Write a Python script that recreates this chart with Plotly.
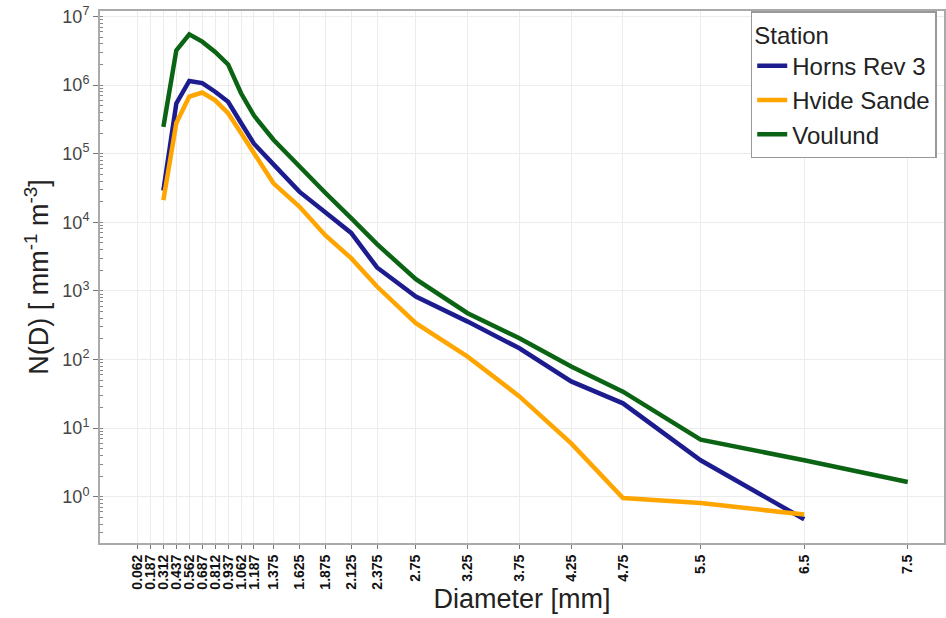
import plotly.graph_objects as go

diameter = [0.312, 0.437, 0.562, 0.687, 0.812, 0.937, 1.062, 1.187, 1.375, 1.625,
            1.875, 2.125, 2.375, 2.75, 3.25, 3.75, 4.25, 4.75, 5.5, 6.5]
horns_rev3 = [2.9e4, 5.4e5, 1.15e6, 1.07e6, 8.0e5, 5.7e5, 2.8e5, 1.4e5, 7.0e4, 2.8e4,
              1.4e4, 7.0e3, 2.2e3, 830, 357, 146, 48, 23, 3.4, 0.47]
hvide_sande = [2.1e4, 2.8e5, 6.8e5, 7.8e5, 6.0e5, 3.9e5, 2.0e5, 1.0e5, 3.7e4, 1.7e4,
               6.5e3, 3.0e3, 1.16e3, 338, 110, 29, 6.0, 0.96, 0.81, 0.55]
voulund_d = [0.312, 0.437, 0.562, 0.687, 0.812, 0.937, 1.062, 1.187, 1.375, 1.625,
             1.875, 2.125, 2.375, 2.75, 3.25, 3.75, 4.25, 4.75, 5.5, 6.5, 7.5]
voulund = [2.46e5, 3.2e6, 5.5e6, 4.3e6, 3.05e6, 2.0e6, 7.6e5, 3.6e5, 1.6e5, 6.4e4,
           2.7e4, 1.15e4, 4.8e3, 1.48e3, 473, 204, 79, 34, 6.8, 3.4, 1.64]

tick_vals = [0.062, 0.187, 0.312, 0.437, 0.562, 0.687, 0.812, 0.937, 1.062, 1.187,
             1.375, 1.625, 1.875, 2.125, 2.375, 2.75, 3.25, 3.75, 4.25, 4.75, 5.5, 6.5, 7.5]
tick_text = ["0.062", "0.187", "0.312", "0.437", "0.562", "0.687", "0.812", "0.937",
             "1.062", "1.187", "1.375", "1.625", "1.875", "2.125", "2.375", "2.75",
             "3.25", "3.75", "4.25", "4.75", "5.5", "6.5", "7.5"]
y_exponents = [0, 1, 2, 3, 4, 5, 6, 7]
y_tick_vals = [10 ** e for e in y_exponents]
y_tick_text = ["10<sup>%d</sup>" % e for e in y_exponents]

fig = go.Figure()
fig.add_trace(go.Scatter(x=diameter, y=horns_rev3, mode="lines", name="Horns Rev 3",
                         line=dict(color="#1c1c8f", width=4.5)))
fig.add_trace(go.Scatter(x=diameter, y=hvide_sande, mode="lines", name="Hvide Sande",
                         line=dict(color="#ffa500", width=4.5)))
fig.add_trace(go.Scatter(x=voulund_d, y=voulund, mode="lines", name="Voulund",
                         line=dict(color="#0b6414", width=4.5)))

fig.update_layout(
    width=946, height=618,
    margin=dict(l=100, r=0, t=11, b=75),
    plot_bgcolor="white", paper_bgcolor="white",
    font=dict(family="Liberation Sans, Arial, sans-serif", color="#222"),
    legend=dict(
        title=dict(text="Station", font=dict(size=24, color="#222")),
        font=dict(size=24, color="#222"),
        x=0.771, y=1.0, xanchor="left", yanchor="top",
        bgcolor="white", bordercolor="#999", borderwidth=1.5,
        tracegroupgap=0, itemwidth=30,
    ),
)
fig.update_xaxes(
    range=[-0.30, 7.85],
    tickmode="array", tickvals=tick_vals, ticktext=tick_text,
    tickangle=-90,
    tickfont=dict(size=14, color="#111", family="Liberation Sans, Arial, sans-serif", weight="bold"),
    ticks="outside", ticklen=4, tickcolor="#777",
    showgrid=True, gridcolor="#ececec", gridwidth=1,
    showline=True, linecolor="#aaa", linewidth=2, mirror=True,
    zeroline=False,
    title=dict(text="Diameter [mm]", font=dict(size=27, color="#222"), standoff=0),
)
fig.update_yaxes(
    type="log", range=[-0.674, 7.08],
    tickmode="array", tickvals=y_tick_vals, ticktext=y_tick_text,
    tickfont=dict(size=18, color="#444"),
    ticks="outside", ticklen=5, tickcolor="#777",
    minor=dict(ticks="inside", ticklen=3, tickcolor="#888", showgrid=False, dtick="D1"),
    showgrid=True, gridcolor="#ececec", gridwidth=1,
    showline=True, linecolor="#aaa", linewidth=2, mirror=True,
    zeroline=False,
    title=dict(text="N(D) [ mm<sup>-1</sup> m<sup>-3</sup>]", font=dict(size=27, color="#222"), standoff=6),
)
fig.write_html("out.html")
